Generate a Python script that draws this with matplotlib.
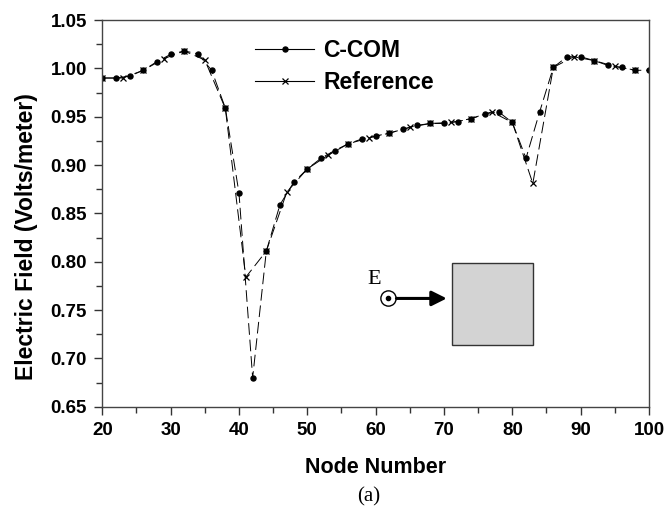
import matplotlib
matplotlib.use("Agg")
import matplotlib.pyplot as plt
from matplotlib.lines import Line2D
from matplotlib.patches import Rectangle
from matplotlib.ticker import MultipleLocator, FormatStrFormatter

plt.rcParams['font.family'] = ['Liberation Sans', 'DejaVu Sans']

# C-COM result, every 2nd node
ccom_nodes = list(range(20, 101, 2))
ccom_vals = [0.990, 0.990, 0.992, 0.998, 1.007, 1.0145, 1.018, 1.015, 0.998, 0.959,
             0.871, 0.680, 0.811, 0.859, 0.882, 0.896, 0.907, 0.915, 0.922, 0.927,
             0.930, 0.933, 0.937, 0.941, 0.943, 0.943, 0.945, 0.948, 0.953, 0.955,
             0.944, 0.907, 0.955, 1.001, 1.012, 1.012, 1.008, 1.003, 1.001, 0.998,
             0.998]

# reference solution, every 3rd node
ref_nodes = list(range(20, 99, 3))
ref_vals = [0.990, 0.990, 0.998, 1.010, 1.018, 1.0086, 0.9586, 0.784, 0.811, 0.872,
            0.896, 0.910, 0.922, 0.928, 0.933, 0.939, 0.943, 0.944, 0.948, 0.955,
            0.944, 0.881, 1.001, 1.012, 1.008, 1.002, 0.998]

fig = plt.figure(figsize=(6.67, 5.08), dpi=100)
ax = fig.add_axes([0.1534, 0.1994, 0.8196, 0.7612])

# the scanned lines are thin and broken, so use a long dash
ax.plot(ccom_nodes, ccom_vals, color='black', lw=0.7, ls=(0, (12, 5)),
        marker='o', ms=3.6)
ax.plot(ref_nodes, ref_vals, color='black', lw=0.7, ls=(0, (12, 5)),
        marker='x', ms=4.5, mew=0.9)

ax.set_xlim(20, 100)
ax.set_ylim(0.65, 1.05)
ax.xaxis.set_major_locator(MultipleLocator(10))
ax.xaxis.set_minor_locator(MultipleLocator(5))
ax.yaxis.set_major_locator(MultipleLocator(0.05))
ax.yaxis.set_minor_locator(MultipleLocator(0.025))
ax.yaxis.set_major_formatter(FormatStrFormatter('%.2f'))
ax.tick_params(which='major', direction='out', length=6, width=1, pad=5,
               labelsize=13.5, color='#333333')
ax.tick_params(which='minor', direction='out', length=4, width=1, color='#333333')
for lab in ax.get_xticklabels() + ax.get_yticklabels():
    lab.set_fontweight('bold')
for sp in ax.spines.values():
    sp.set_color('#444444')
    sp.set_linewidth(1.0)

ax.set_xlabel('Node Number', fontsize=15.5, fontweight='bold', labelpad=13)
ax.set_ylabel('Electric Field (Volts/meter)', fontsize=16.5, fontweight='bold')
ax.yaxis.set_label_coords(-0.118, 0.44)

handles = [Line2D([], [], color='black', lw=0.8, marker='o', ms=3.6),
           Line2D([], [], color='black', lw=0.8, marker='x', ms=4.5, mew=0.9)]
ax.legend(handles, ['C-COM', 'Reference'], loc='upper left',
          bbox_to_anchor=(0.262, 0.975), frameon=False,
          prop={'size': 16.5, 'weight': 'bold'}, handlelength=2.6,
          handletextpad=0.4, labelspacing=0.4, borderaxespad=0)

# inset sketch: E field out of page, incident on a square scatterer
ax.add_patch(Rectangle((0.639, 0.160), 0.149, 0.211, transform=ax.transAxes,
                       facecolor='#d3d3d3', edgecolor='#333333', lw=1.0))
ax.plot([0.523], [0.280], marker='o', ms=11, mfc='white', mec='black', mew=1.0,
        transform=ax.transAxes)
ax.plot([0.523], [0.280], marker='o', ms=3, color='black', transform=ax.transAxes)
ax.annotate('', xy=(0.630, 0.280), xytext=(0.538, 0.280), xycoords='axes fraction',
            arrowprops=dict(arrowstyle='-|>,head_length=0.9,head_width=0.45',
                            lw=2.2, color='black', shrinkA=0, shrinkB=0))
ax.text(0.498, 0.330, 'E', transform=ax.transAxes, fontsize=16,
        family='Liberation Serif', ha='center', va='center')

fig.text(0.5534, 0.022, '(a)', fontsize=15, family='Liberation Serif',
         ha='center', va='center')

fig.savefig('out.png', dpi=100)
